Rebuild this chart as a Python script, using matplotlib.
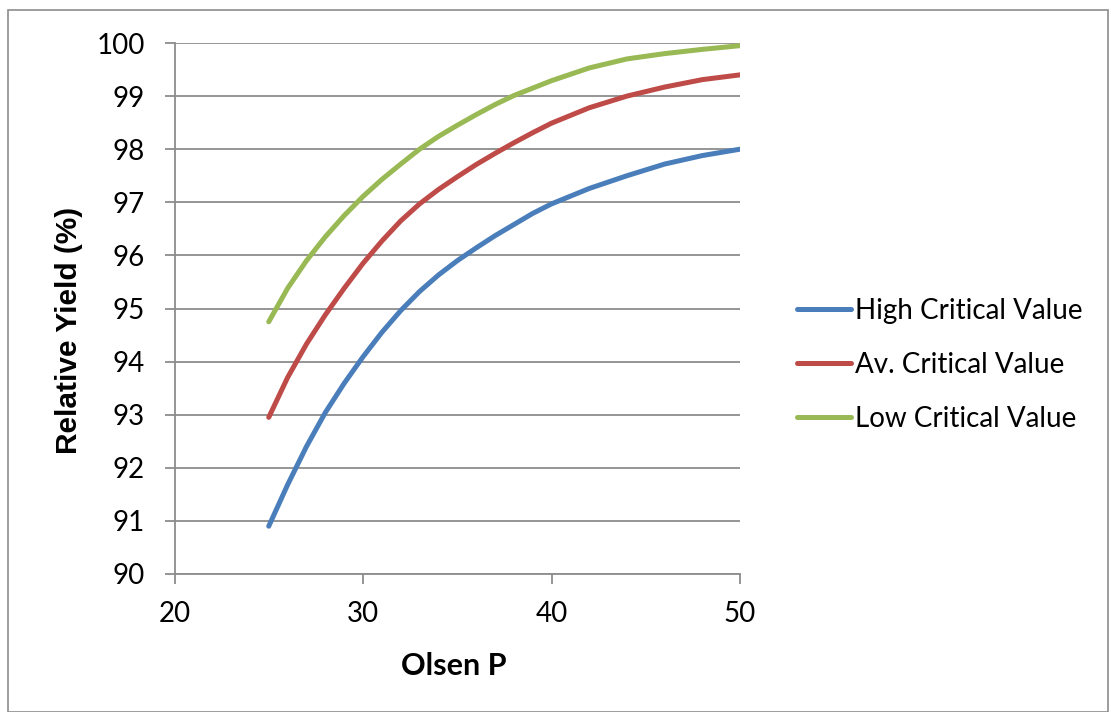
import matplotlib.pyplot as plt
from matplotlib.patches import Rectangle

# values
olsen_p = [25, 26, 27, 28, 29, 30, 31, 32, 33, 34, 35, 36, 37, 38, 39, 40, 42, 44, 46, 48, 50]
high_cv = [90.90, 91.68, 92.40, 93.04, 93.59, 94.09, 94.55, 94.96, 95.32, 95.63, 95.90,
           96.14, 96.37, 96.58, 96.79, 96.97, 97.26, 97.50, 97.72, 97.88, 98.00]
av_cv = [92.95, 93.70, 94.33, 94.88, 95.38, 95.85, 96.27, 96.65, 96.97, 97.24, 97.48,
         97.71, 97.92, 98.12, 98.31, 98.49, 98.78, 99.00, 99.17, 99.31, 99.40]
low_cv = [94.75, 95.38, 95.90, 96.35, 96.75, 97.11, 97.43, 97.72, 98.00, 98.24, 98.45,
          98.65, 98.84, 99.01, 99.15, 99.29, 99.53, 99.70, 99.80, 99.88, 99.95]

series = [
    ("High Critical Value", high_cv, "#4A7EBB"),
    ("Av. Critical Value", av_cv, "#BE4B48"),
    ("Low Critical Value", low_cv, "#98B954"),
]

plt.rcParams['font.family'] = ['Lato', 'DejaVu Sans']

fig = plt.figure(figsize=(11.11, 7.12), dpi=100)
fig.patches.append(Rectangle((8 / 1111, 0), 1100 / 1111, 702 / 712, transform=fig.transFigure,
                             fill=False, edgecolor='#8c8c8c', lw=1.2))

ax = fig.add_axes([174.5 / 1111, 138 / 712, 565.5 / 1111, 531 / 712])

for name, vals, col in series:
    ax.plot(olsen_p, vals, color=col, lw=3.6, solid_capstyle='round', solid_joinstyle='round', label=name)

ax.set_xlim(20, 50)
ax.set_ylim(90, 100)
ax.set_xticks([20, 30, 40, 50])
ax.set_yticks(range(90, 101))
ax.grid(axis='y', color='#8c8c8c', lw=1.3)
ax.set_axisbelow(True)

for s in ['top', 'right']:
    ax.spines[s].set_visible(False)
for s in ['left', 'bottom']:
    ax.spines[s].set_color('#8c8c8c')
    ax.spines[s].set_linewidth(1.3)

ax.tick_params(direction='out', length=7.2, width=1.3, color='#8c8c8c', labelsize=20)
ax.tick_params(axis='y', pad=14)
ax.tick_params(axis='x', pad=12)

ax.set_xlabel("Olsen P", fontsize=22, fontweight='bold')
ax.xaxis.set_label_coords(0.494, -0.173)
ax.xaxis.label.set_va('center')
ax.set_ylabel("Relative Yield (%)", fontsize=21.5, fontweight='bold',
              family=['Liberation Sans', 'DejaVu Sans'])
ax.yaxis.set_label_coords(-0.1866, 0.4595)
ax.yaxis.label.set_va('center')

ax.legend(loc='center left', bbox_to_anchor=(797 / 1111, 347 / 712), bbox_transform=fig.transFigure,
          frameon=False, fontsize=20, handlelength=1.95, handletextpad=0.15, labelspacing=1.0,
          borderaxespad=0, borderpad=0)

fig.savefig("out.png", dpi=100)
